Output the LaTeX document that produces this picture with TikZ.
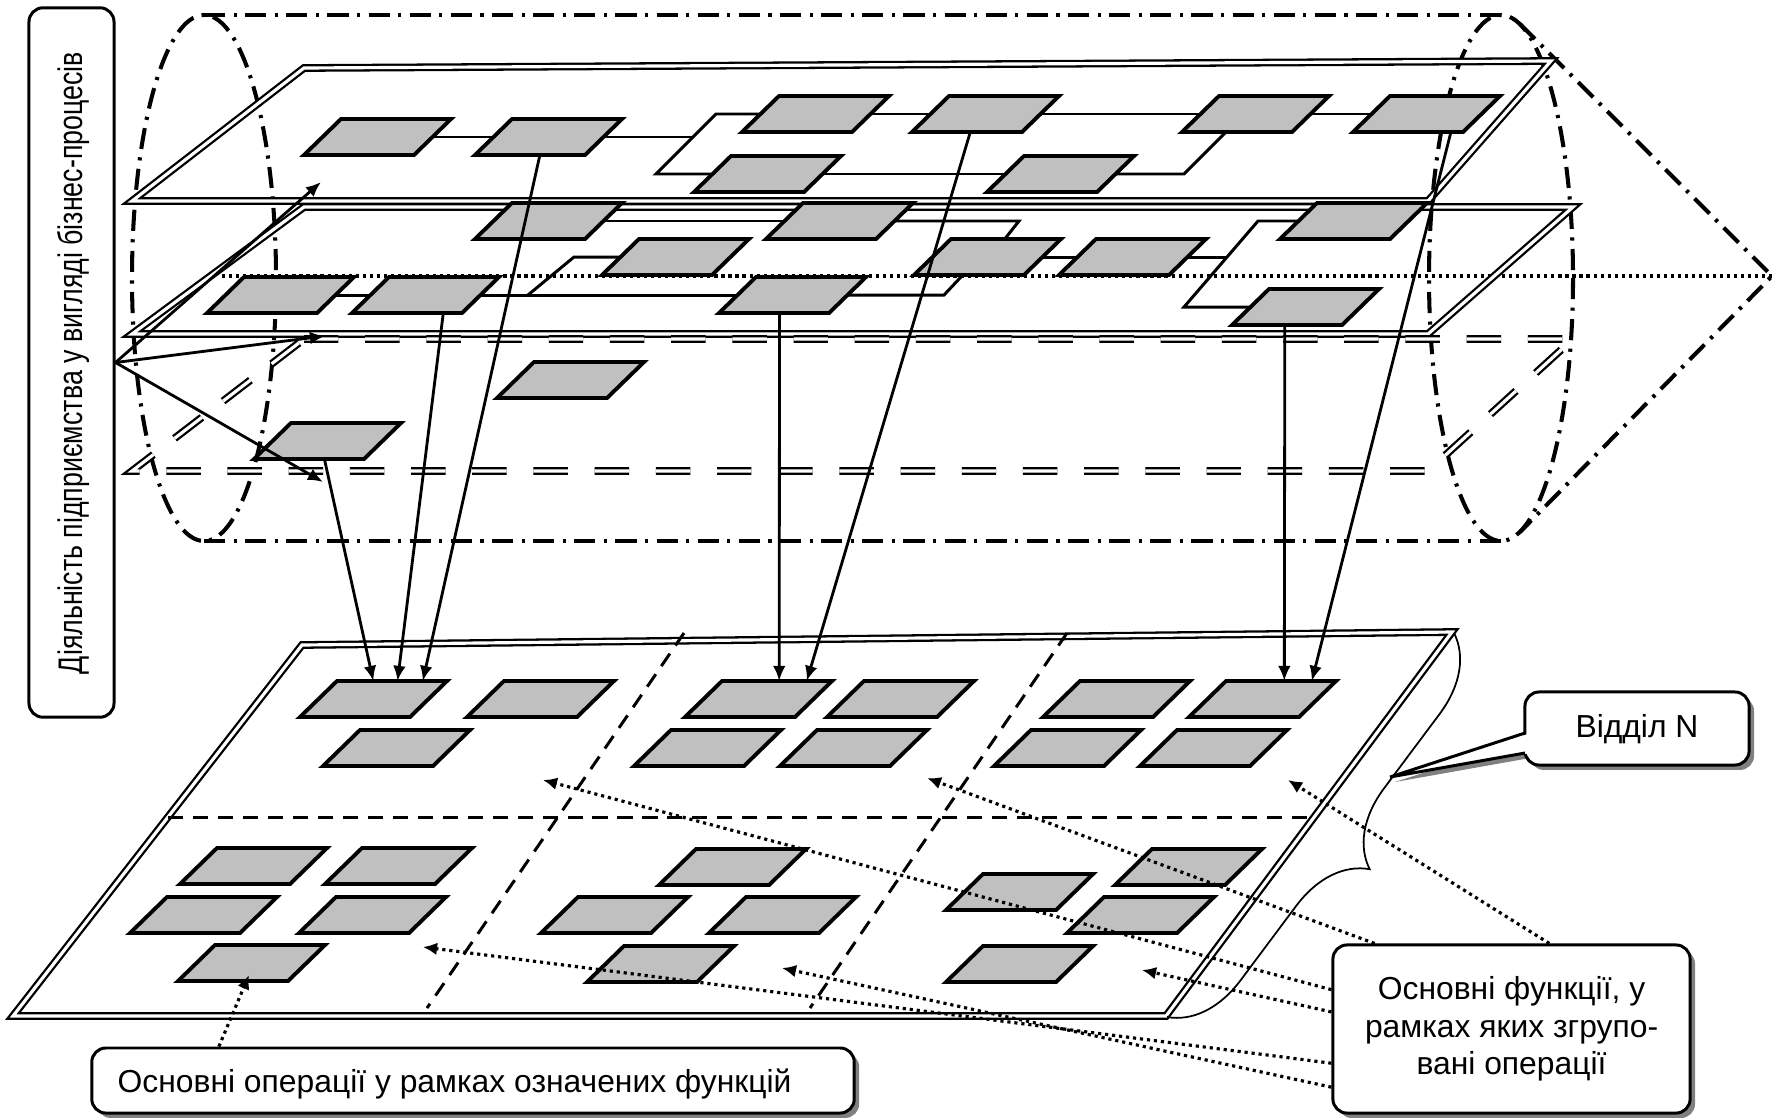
\documentclass[tikz,border=0pt]{standalone}
\usepackage{fontspec}
\setmainfont{Liberation Sans}
\newfontfamily\narrowsans[FakeStretch=0.785]{Liberation Sans}
\usetikzlibrary{arrows.meta,calc,decorations.pathreplacing,shadows}
\definecolor{boxgray}{RGB}{192,192,192}
\definecolor{shadowgray}{RGB}{128,128,128}
\pgfdeclarelayer{back}
\pgfdeclarelayer{front}
\pgfsetlayers{back,main,front}
% an operation box: a grey parallelogram given by its lower left corner;
% its corners are named <name>-bl, -br, -tr, -tl and its centre <name>
\newcommand\opbox[3]{%
  \path (#2,#3) coordinate (#1-bl) ++(110,0) coordinate (#1-br)
        ++(37,-36) coordinate (#1-tr) ++(-110,0) coordinate (#1-tl);
  \coordinate (#1) at ($(#1-bl)!0.5!(#1-tr)$);
  \filldraw[opstyle] (#1-bl) -- (#1-br) -- (#1-tr) -- (#1-tl) -- cycle;
}
\begin{document}
\begin{tikzpicture}[x=0.01cm, y=-0.01cm,
  every node/.style={font=\fontsize{9.05pt}{10.7pt}\selectfont},
  opstyle/.style={draw, line width=1.1pt, fill=boxgray, line join=miter},
  cyl/.style={line width=1.15pt, dash pattern=on 6pt off 2.4pt on 0.9pt off 2.4pt},
  axisline/.style={line width=0.9pt, dash pattern=on 0.9pt off 1.1pt},
  plane/.style={line width=0.65pt, double, double distance=0.9pt},
  dplane/.style={plane, dash pattern=on 9.8pt off 7.6pt},
  divider/.style={line width=0.85pt, dash pattern=on 4.3pt off 2.8pt},
  conn/.style={line width=0.85pt},
  arr/.style={line width=0.8pt, -{Latex[length=4.3pt,width=3.6pt]}},
  darr/.style={line width=0.9pt, dash pattern=on 0.9pt off 1.1pt, -{Latex[length=4pt,width=3.6pt]}},
  tbox/.style={draw, line width=0.85pt, rounded corners=4pt, fill=white, inner sep=0pt,
    drop shadow={shadow xshift=1.4pt, shadow yshift=-1.4pt, fill=shadowgray, opacity=1}},
]
\useasboundingbox (0,0) rectangle (1786,1118);

% ---- operations on the upper process plane
\opbox{A1}{304}{155}
\opbox{A2}{475}{155}
\opbox{A3}{742}{132}
\opbox{A4}{912}{132}
\opbox{A5}{694}{192}
\opbox{A6}{987}{192}
\opbox{A7}{1182}{132}
\opbox{A8}{1353}{132}
% ---- middle process plane
\opbox{B1}{207}{313}
\opbox{B2}{352}{313}
\opbox{B3}{475}{239}
\opbox{B4}{766}{239}
\opbox{B5}{602}{275}
\opbox{B6}{719}{313}
\opbox{B7}{914}{275}
\opbox{B8}{1059}{275}
\opbox{B9}{1280}{239}
\opbox{B10}{1232}{325}
% ---- lower (dashed) process plane
\opbox{C1}{254}{459}
\opbox{C2}{497}{398}
% ---- department plane: functions and their operations
\opbox{D1}{300}{717}
\opbox{D2}{467}{717}
\opbox{D3}{323}{766}
\opbox{D9}{685}{717}
\opbox{D10}{827}{717}
\opbox{D11}{634}{766}
\opbox{D12}{780}{766}
\opbox{D13}{1043}{717}
\opbox{D14}{1189}{717}
\opbox{D15}{994}{766}
\opbox{D16}{1140}{766}
\opbox{D4}{180}{884}
\opbox{D5}{325}{884}
\opbox{D6}{130}{933}
\opbox{D7}{299}{933}
\opbox{D8}{178}{981}
\opbox{D17}{659}{885}
\opbox{D18}{541}{933}
\opbox{D19}{709}{933}
\opbox{D20}{587}{982}
\opbox{D21}{946}{910}
\opbox{D22}{1115}{885}
\opbox{D23}{1067}{933}
\opbox{D24}{946}{982}

\begin{pgfonlayer}{back}
  % cylinder of business processes
  \draw[cyl] (204,278) ellipse [x radius=72, y radius=263];
  \draw[cyl] (1501,278) ellipse [x radius=72, y radius=263];
  \draw[cyl] (204,15) -- (1501,15);
  \draw[cyl] (204,541) -- (1501,541);
  \coordinate (apex) at (1772,276);
  \coordinate (cu) at (1520,24);
  \coordinate (cl) at (1520,532);
  \coordinate (ax) at (222,276);
  \draw[cyl] (cu) -- (apex) -- (cl);
  \draw[axisline] (ax) -- (apex);
  % process planes
  \draw[plane] (304,68) -- (1551,61) -- (1428,201) -- (132,201) -- cycle;
  \draw[plane] (304,207) -- (1573,207) -- (1428,334) -- (132,334) -- cycle;
  \draw[dplane] (304,339) -- (1573,339) -- (1428,471) -- (132,471) -- cycle;
  % department plane with its dividers
  \draw[plane] (302,645) -- (1452,632) -- (1166,1016) -- (13,1016) -- cycle;
  \draw[divider] (168,817) -- (1314,817);
  \draw[divider] (684,633) -- (427,1008);
  \draw[divider] (1067,633) -- (810,1008);

  % links between operations, upper plane
  \coordinate (ka) at (716,114);
  \coordinate (kb) at (656,174);
  \coordinate (kc) at (693,137);
  \coordinate (kd) at (1184,174);
  \coordinate (ke) at (1236,122);
  \draw[conn] (A1) -- (A2);
  \draw[conn] (A3) -- (ka) -- (kb) -- (A5);
  \draw[conn] (A2) -- (kc);
  \draw[conn] (A3) -- (A4);
  \draw[conn] (A5) -- (A6);
  \draw[conn] (A4) -- (A7);
  \draw[conn] (A6) -- (kd) -- (ke);
  \draw[conn] (A7) -- (A8);
  % links, middle plane
  \coordinate (kf) at (528,295);
  \coordinate (kg) at (574,257);
  \coordinate (kh) at (1019,221);
  \coordinate (ki) at (996,250);
  \coordinate (kj) at (944,295);
  \coordinate (kk) at (975,262);
  \coordinate (kl) at (1258,221);
  \coordinate (km) at (1184,307);
  \coordinate (kn) at (1227,257);
  \draw[conn] (B1) -- (B2);
  \draw[conn] (B2) -- (B6);
  \draw[conn] (kf) -- (kg) -- (B5);
  \draw[conn] (B3) -- (B4);
  \draw[conn] (B4) -- (kh) -- (ki);
  \draw[conn] (B6) -- (kj) -- (kk);
  \draw[conn] (B7) -- (B8);
  \draw[conn] (B9) -- (kl) -- (km) -- (B10);
  \draw[conn] (B8) -- (kn);
\end{pgfonlayer}

\begin{pgfonlayer}{front}
  % activity label and its arrows
  \node[draw, line width=0.85pt, rounded corners=4pt, fill=white, minimum width=0.85cm,
        minimum height=7.09cm, inner sep=0pt] (L) at (71.5,362.5) {};
  \node[rotate=90, anchor=base, inner sep=0pt,
        font=\narrowsans\fontsize{9.7pt}{11pt}\selectfont] (Ltext) at (82,363)
        {Діяльність підприємства у вигляді бізнес-процесів};
  \coordinate (t1) at (321,182);
  \coordinate (t2) at (325,336);
  \coordinate (t3) at (323,482);
  \draw[arr] (L.east) -- (t1);
  \draw[arr] (L.east) -- (t2);
  \draw[arr] (L.east) -- (t3);

  % operations passed down to the department functions
  \draw[arr] ($(C1-bl)!0.64!(C1-br)$) -- ($(D1-tl)!0.33!(D1-tr)$);
  \draw[arr] ($(B2-bl)!0.83!(B2-br)$) -- ($(D1-tl)!0.55!(D1-tr)$);
  \draw[arr] ($(A2-bl)!0.59!(A2-br)$) -- ($(D1-tl)!0.78!(D1-tr)$);
  \draw[arr] ($(B6-bl)!0.55!(B6-br)$) -- ($(D9-tl)!0.52!(D9-tr)$);
  \draw[arr] ($(A4-bl)!0.53!(A4-br)$) -- ($(D9-tl)!0.77!(D9-tr)$);
  \draw[arr] ($(B10-bl)!0.48!(B10-br)$) -- ($(D14-tl)!0.53!(D14-tr)$);
  \draw[arr] ($(A8-bl)!0.89!(A8-br)$) -- ($(D14-tl)!0.78!(D14-tr)$);

  % brace marking the department
  \coordinate (bra) at (1454,633);
  \coordinate (brb) at (1167,1017);
  \draw[line width=0.5pt, decorate, decoration={brace, amplitude=21pt}] (bra) -- (brb);

  % callout of the department
  \coordinate (vtip) at (1390,777);
  \coordinate (vw1) at (1525,733);
  \coordinate (vw2) at (1525,753);
  \fill[shadowgray] ($(vw1)+(5,5)$) -- ($(vtip)+(5,5)$) -- ($(vw2)+(5,5)$) -- cycle;
  \node[tbox, minimum width=2.24cm, minimum height=0.73cm] (V) at (1637,728.5) {};
  \fill[white] ($(vw1)+(6,0)$) -- (vtip) -- ($(vw2)+(6,0)$) -- cycle;
  \draw[line width=0.85pt] (vw1) -- (vtip) -- (vw2);
  \node[anchor=base, inner sep=0pt] (Vtext) at (1637,737) {Відділ N};

  % functions callout and its pointers
  \node[tbox, minimum width=3.57cm, minimum height=1.68cm, align=center] (F) at (1511.5,1029)
       {Основні функції, у\\рамках яких згрупо-\\вані операції};
  \coordinate (g1) at (543,780);
  \coordinate (g2) at (423,947);
  \coordinate (g3) at (927,778);
  \coordinate (g4) at (782,968);
  \coordinate (g5) at (1288,780);
  \coordinate (g6) at (1142,970);
  \draw[darr] ($(F.north west)!0.27!(F.south west)$) -- (g1);
  \draw[darr] ($(F.north west)!0.70!(F.south west)$) -- (g2);
  \draw[darr] ($(F.north west)!0.12!(F.north east)$) -- (g3);
  \draw[darr] ($(F.north west)!0.84!(F.south west)$) -- (g4);
  \draw[darr] ($(F.north west)!0.605!(F.north east)$) -- (g5);
  \draw[darr] ($(F.north west)!0.40!(F.south west)$) -- (g6);

  % operations callout
  \node[tbox, minimum width=7.62cm, minimum height=0.65cm] (O) at (473,1080.5) {};
  \node[anchor=base west, inner sep=0pt] (Otext) at (117,1092) {Основні операції у рамках означених функцій};
  \coordinate (g7) at (249,975);
  \draw[darr] ($(O.north west)!0.168!(O.north east)$) -- (g7);
\end{pgfonlayer}
\end{tikzpicture}
\end{document}
